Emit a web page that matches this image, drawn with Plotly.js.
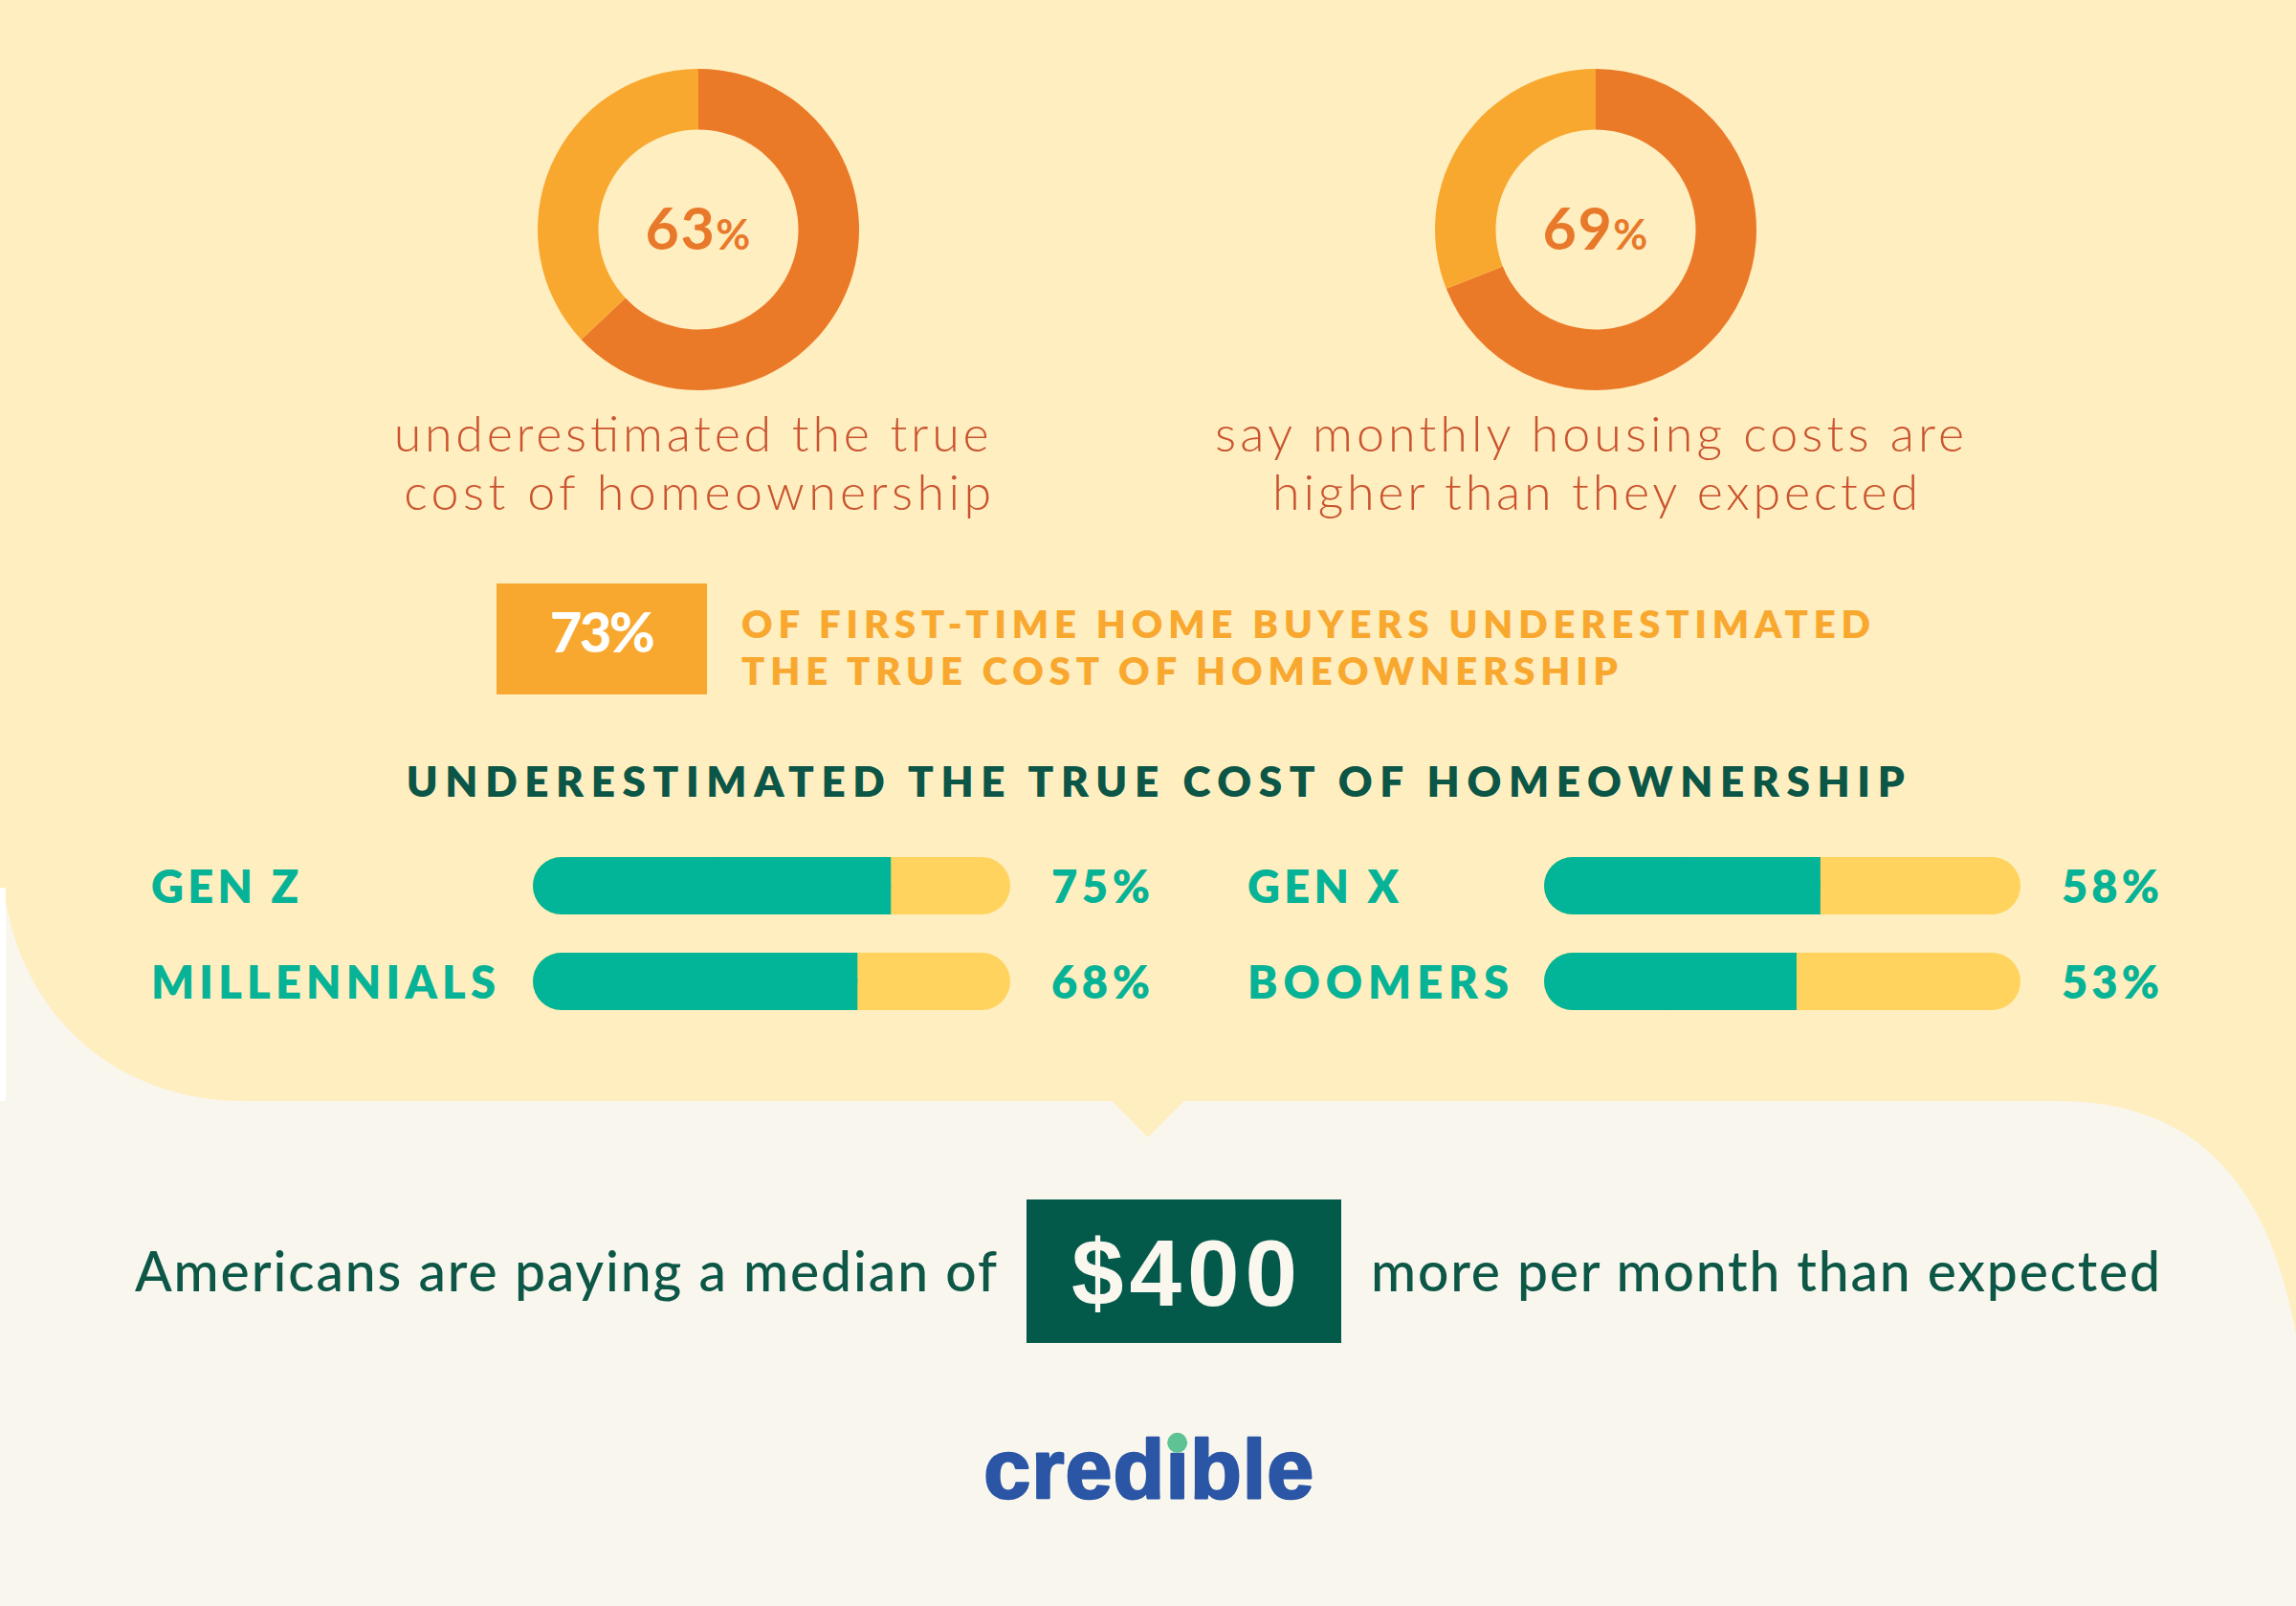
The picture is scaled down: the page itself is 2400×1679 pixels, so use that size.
<!DOCTYPE html>
<html>
<head>
<meta charset="utf-8">
<script src="https://cdn.plot.ly/plotly-3.0.1.min.js"></script>
<style>
  html, body { margin: 0; padding: 0; background: #F9F6EE; }
  #chart { width: 2400px; height: 1679px; }
</style>
</head>
<body>
<div id="chart"></div>
<script>
// ---------------- DATA ----------------
const RING_VALUES = [63, 69];
const RING_TOTAL = 100;
const RING_CAPTION_LINE1 = ["underestimated the true", "say monthly housing costs are"];
const RING_CAPTION_LINE2 = ["cost of homeownership", "higher than they expected"];
const FIRST_TIME_VALUE = 73;
const FIRST_TIME_LINES = ["OF FIRST-TIME HOME BUYERS UNDERESTIMATED", "THE TRUE COST OF HOMEOWNERSHIP"];
const BAR_TITLE = "UNDERESTIMATED THE TRUE COST OF HOMEOWNERSHIP";
const GEN_LEFT = ["GEN Z", "MILLENNIALS"];
const VAL_LEFT = [75, 68];
const GEN_RIGHT = ["GEN X", "BOOMERS"];
const VAL_RIGHT = [58, 53];
const BAR_TOTAL = 100;
const MEDIAN_EXTRA = 400;
const SENTENCE_LEFT = "Americans are paying a median of";
const SENTENCE_RIGHT = "more per month than expected";
const BRAND = "credible";

// ---------------- STYLE / GEOMETRY ----------------
const W = 2400, H = 1679;
const fx = x => x / W;
const fy = y => 1 - y / H;
const P = (x, y) => fx(x).toFixed(5) + ',' + fy(y).toFixed(5);

const C = {
  yellowBg: '#FFEEBF', offWhite: '#F9F6EE',
  ringDark: '#EB7A28', ringLight: '#F9A82F',
  ringText: '#E9792A', caption: '#C9542F',
  box73: '#F9A82F', orangeText: '#F9A82F',
  heading: '#0B5646', teal: '#02B498', barYellow: '#FFD35E', tealText: '#07B396',
  sentence: '#0D5747', box400: '#035A4B', boxText: '#FAF7EF',
  brand: '#2B56A5', brandDot: '#5DC394'
};
const LATO = 'Lato, "Open Sans", sans-serif';
const ARIAL = '"Liberation Sans", Arial, sans-serif';

const RING_CX = [730, 1668], RING_CY = 240, RING_R = 168;

// ---------------- TRACES ----------------
const traces = [];
RING_VALUES.forEach((v, i) => {
  traces.push({
    type: 'pie', values: [v, RING_TOTAL - v], hole: 0.622, sort: false,
    direction: 'clockwise', rotation: 0, textinfo: 'none', hoverinfo: 'skip',
    marker: { colors: [C.ringDark, C.ringLight], line: { width: 0 } },
    domain: { x: [fx(RING_CX[i] - RING_R), fx(RING_CX[i] + RING_R)],
              y: [fy(RING_CY + RING_R), fy(RING_CY - RING_R)] },
    showlegend: false
  });
});

function barSet(cats, vals, xa, ya) {
  const common = { type: 'bar', orientation: 'h', y: cats, width: 0.6, hoverinfo: 'skip',
                   xaxis: xa, yaxis: ya, showlegend: false };
  return [
    // full-length yellow pill (100%)
    Object.assign({}, common, { x: vals.map(() => BAR_TOTAL), base: vals.map(() => 0),
      marker: { color: C.barYellow, cornerradius: '50%', line: { width: 0 } } }),
    // teal pill 0..value
    Object.assign({}, common, { x: vals, base: vals.map(() => 0),
      marker: { color: C.teal, cornerradius: '50%', line: { width: 0 } } }),
    // square teal end of the value segment
    Object.assign({}, common, { x: vals.map(v => v / 2), base: vals.map(v => v / 2),
      marker: { color: C.teal, cornerradius: 0, line: { width: 0 } } })
  ];
}
traces.push(...barSet(GEN_LEFT, VAL_LEFT, 'x', 'y'));
traces.push(...barSet(GEN_RIGHT, VAL_RIGHT, 'x2', 'y2'));

// ---------------- ANNOTATIONS ----------------
const annotations = [];
const TARGETS = [];
function addText(o) {
  annotations.push({
    text: o.text, x: o.x, y: o.y, xref: o.xref || 'paper', yref: o.yref || 'paper',
    xanchor: o.xanchor || 'center', yanchor: 'middle',
    align: o.xanchor === 'left' ? 'left' : (o.xanchor === 'right' ? 'right' : 'center'),
    showarrow: false, borderpad: 0, borderwidth: 0,
    font: { family: o.family || LATO, size: o.size, color: o.color, weight: o.weight || 400 }
  });
  TARGETS.push(o.target || null);
  return annotations.length - 1;
}

RING_VALUES.forEach((v, i) => {
  addText({ text: v + '<span style="font-size:44px">%</span>', x: fx(RING_CX[i]), y: fy(238),
            size: 61, weight: 700, color: C.ringText, target: 110 });
});
const CAP1_X = [722, 1661], CAP2_X = [729, 1668];
const CAP1_W = [622, 783], CAP2_W = [614, 675];
RING_CAPTION_LINE1.forEach((t, i) => addText({ text: t, x: fx(CAP1_X[i]), y: fy(452), size: 52, weight: 300, color: C.caption, target: CAP1_W[i] }));
RING_CAPTION_LINE2.forEach((t, i) => addText({ text: t, x: fx(CAP2_X[i]), y: fy(513), size: 52, weight: 300, color: C.caption, target: CAP2_W[i] }));

addText({ text: FIRST_TIME_VALUE + '%', x: fx(629), y: fy(659), size: 58, weight: 900, color: '#FFFFFF', target: 110 });
const FT_Y = [652, 701], FT_W = [1180, 916];
FIRST_TIME_LINES.forEach((t, i) => addText({ text: t, x: fx(775), y: fy(FT_Y[i]), xanchor: 'left', size: 40, weight: 800, color: C.orangeText, target: FT_W[i] }));

addText({ text: BAR_TITLE, x: fx(1207), y: fy(816), size: 44, weight: 800, color: C.heading, target: 1566 });

const LBL_W_LEFT = [154, 360], LBL_W_RIGHT = [158, 273];
GEN_LEFT.forEach((g, i) => {
  addText({ text: g, x: fx(158), y: g, yref: 'y', xanchor: 'left', size: 47, weight: 800, color: C.tealText, target: LBL_W_LEFT[i] });
  addText({ text: VAL_LEFT[i] + '%', x: fx(1099), y: g, yref: 'y', xanchor: 'left', size: 47, weight: 800, color: C.tealText, target: 103 });
});
GEN_RIGHT.forEach((g, i) => {
  addText({ text: g, x: fx(1304), y: g, yref: 'y2', xanchor: 'left', size: 47, weight: 800, color: C.tealText, target: LBL_W_RIGHT[i] });
  addText({ text: VAL_RIGHT[i] + '%', x: fx(2155), y: g, yref: 'y2', xanchor: 'left', size: 47, weight: 800, color: C.tealText, target: 102 });
});

addText({ text: SENTENCE_LEFT, x: fx(141), y: fy(1328), xanchor: 'left', size: 57, weight: 500, color: C.sentence, target: 901 });
addText({ text: SENTENCE_RIGHT, x: fx(1433), y: fy(1328), xanchor: 'left', size: 57, weight: 500, color: C.sentence, target: 825 });
addText({ text: '$' + MEDIAN_EXTRA, x: fx(1238), y: fy(1331), size: 98, weight: 700, family: ARIAL, color: C.boxText, target: 236 });
const BRAND_SIZE = 88;
const BRAND_IDX = addText({ text: BRAND, x: fx(1200), y: fy(1535), size: BRAND_SIZE, weight: 700, family: ARIAL, color: C.brand, target: 345 });

// ---------------- SHAPES ----------------
const yellowPath = 'M' + P(0, 0) + ' L' + P(2400, 0) + ' L' + P(2400, 1395) +
  ' C' + P(2370, 1230) + ' ' + P(2290, 1151) + ' ' + P(2150, 1151) +
  ' L' + P(1238, 1151) + ' L' + P(1200, 1189) + ' L' + P(1162, 1151) +
  ' L' + P(255, 1151) + ' C' + P(120, 1151) + ' ' + P(20, 1060) + ' ' + P(4, 928) +
  ' L' + P(0, 928) + ' Z';
const rect = (x0, y0, x1, y1, color) => ({ type: 'rect', xref: 'paper', yref: 'paper', layer: 'below',
  x0: fx(x0), x1: fx(x1), y0: fy(y1), y1: fy(y0), fillcolor: color, line: { width: 0 } });
const shapes = [
  { type: 'path', xref: 'paper', yref: 'paper', layer: 'below', path: yellowPath, fillcolor: C.yellowBg, line: { width: 0 } },
  rect(0, 928, 6, 1151, '#FFFFFF'),
  rect(519, 610, 739, 726, C.box73),
  rect(1073, 1254, 1402, 1404, C.box400)
];
const DOT_IDX = shapes.length;

// ---------------- LAYOUT ----------------
const yDom = [fy(1076), fy(876)];
const hidden = { visible: false, fixedrange: true, showgrid: false, zeroline: false };
const layout = {
  width: W, height: H, margin: { l: 0, r: 0, t: 0, b: 0, pad: 0 },
  paper_bgcolor: C.offWhite, plot_bgcolor: 'rgba(0,0,0,0)',
  showlegend: false, hovermode: false, barmode: 'overlay',
  xaxis: Object.assign({ domain: [fx(557), fx(1056)], range: [0, BAR_TOTAL], anchor: 'y' }, hidden),
  yaxis: Object.assign({ domain: yDom, type: 'category', categoryorder: 'array', categoryarray: GEN_LEFT,
                         range: [GEN_LEFT.length - 0.5, -0.5], anchor: 'x' }, hidden),
  xaxis2: Object.assign({ domain: [fx(1614), fx(2112)], range: [0, BAR_TOTAL], anchor: 'y2' }, hidden),
  yaxis2: Object.assign({ domain: yDom, type: 'category', categoryorder: 'array', categoryarray: GEN_RIGHT,
                          range: [GEN_RIGHT.length - 0.5, -0.5], anchor: 'x2' }, hidden),
  annotations: annotations,
  shapes: shapes
};

const gd = document.getElementById('chart');
function brandText() {
  const g = gd.querySelector('g.annotation[data-index="' + BRAND_IDX + '"]');
  return g ? g.querySelector('text.annotation-text') : null;
}
function fitTexts() {
  gd.querySelectorAll('g.annotation').forEach(g => {
    const idx = +g.getAttribute('data-index');
    const t = TARGETS[idx];
    const el = g.querySelector('text.annotation-text');
    if (t && el) { el.setAttribute('textLength', t); el.setAttribute('lengthAdjust', 'spacing'); }
    if (idx === BRAND_IDX && el) {
      el.style.stroke = C.brand; el.style.strokeWidth = '2.5px'; el.style.strokeLinejoin = 'round';
    }
  });
}
function raiseDot() {
  // move the logo's green dot (a Plotly shape) above the logo text
  let node = null;
  gd.querySelectorAll('[data-index="' + DOT_IDX + '"]').forEach(n => {
    if (!node && n.closest('.shapelayer')) node = n;
  });
  const el = brandText();
  if (!node || !el) return;
  let top = node;
  while (top.parentNode && !top.parentNode.classList.contains('shapelayer')) top = top.parentNode;
  const host = el.closest('g.annotation');
  host.parentNode.appendChild(top);
}
Plotly.newPlot(gd, traces, layout, { staticPlot: true, displayModeBar: false })
  .then(() => (document.fonts && document.fonts.ready) ? document.fonts.ready : null)
  .then(() => {
    fitTexts();
    const el = brandText();
    if (!el) return;
    const p = el.getStartPositionOfChar(BRAND.indexOf('i'));
    const pt = new DOMPoint(p.x + 0.139 * BRAND_SIZE, p.y - 0.655 * BRAND_SIZE).matrixTransform(el.getCTM());
    const r = 10.5;
    return Plotly.relayout(gd, { ['shapes[' + DOT_IDX + ']']: {
      type: 'circle', xref: 'paper', yref: 'paper', layer: 'above',
      x0: fx(pt.x - r), x1: fx(pt.x + r), y0: fy(pt.y + r), y1: fy(pt.y - r),
      fillcolor: C.brandDot, line: { width: 0 } } });
  })
  .then(() => { fitTexts(); raiseDot(); });
</script>
</body>
</html>
